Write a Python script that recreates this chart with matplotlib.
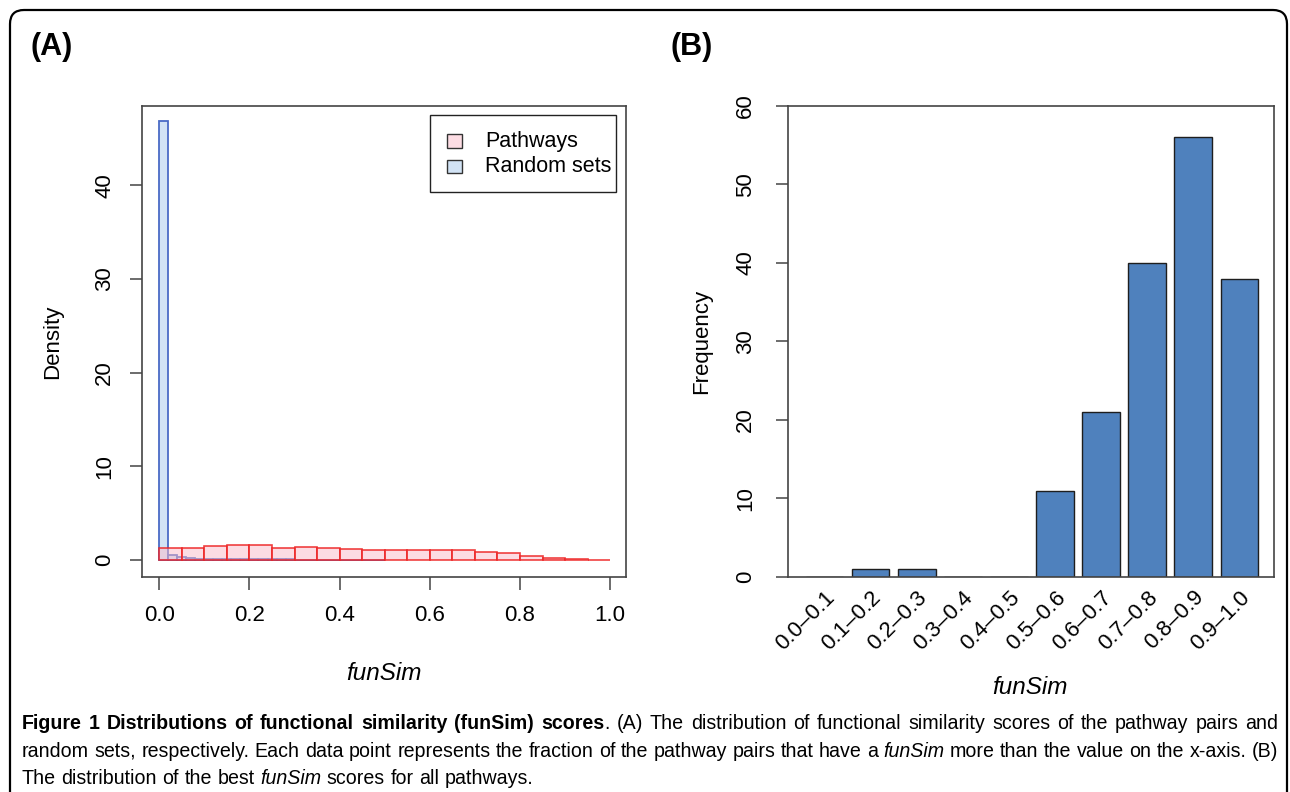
import matplotlib
matplotlib.use('Agg')
import matplotlib.pyplot as plt
import matplotlib.patches as mpatches
from matplotlib import font_manager as fm
from matplotlib.transforms import IdentityTransform

# ---------------- data ----------------
pathway_bin_width = 0.05
pathway_density = [1.27, 1.30, 1.45, 1.59, 1.56, 1.27, 1.42, 1.31, 1.16, 1.03,
                   1.03, 1.03, 1.03, 1.03, 0.85, 0.75, 0.47, 0.26, 0.08, 0.02]
random_bin_width = 0.02
random_density = [46.9, 0.53, 0.32, 0.20, 0.12, 0.10, 0.09, 0.08, 0.07, 0.07,
                  0.06, 0.06, 0.05, 0.05, 0.05, 0.04, 0.04, 0.04, 0.03, 0.03,
                  0.03, 0.02, 0.02, 0.02, 0.02]
a_xticks = [0.0, 0.2, 0.4, 0.6, 0.8, 1.0]
a_yticks = [0, 10, 20, 30, 40]
legend_labels = ["Pathways", "Random sets"]

b_categories = ["0.0\u20130.1", "0.1\u20130.2", "0.2\u20130.3", "0.3\u20130.4", "0.4\u20130.5",
                "0.5\u20130.6", "0.6\u20130.7", "0.7\u20130.8", "0.8\u20130.9", "0.9\u20131.0"]
b_frequency = [0, 1, 1, 0, 0, 11, 21, 40, 56, 38]
b_yticks = [0, 10, 20, 30, 40, 50, 60]

caption_lines = [
    [("Figure 1 Distributions of functional similarity (funSim) scores", "b"),
     (". (A) The distribution of functional similarity scores of the pathway pairs and", "n")],
    [("random sets, respectively. Each data point represents the fraction of the pathway pairs that have a ", "n"),
     ("funSim", "i"), (" more than the value on the x-axis. (B)", "n")],
    [("The distribution of the best ", "n"), ("funSim", "i"), (" scores for all pathways.", "n")],
]

# ---------------- fonts ----------------
names = {f.name for f in fm.fontManager.ttflist}
narrow = 'Liberation Sans Narrow' if 'Liberation Sans Narrow' in names else 'Liberation Sans'
plt.rcParams['font.family'] = ['Liberation Sans', 'DejaVu Sans']

W, H = 1290, 792
fig = plt.figure(figsize=(W / 100, H / 100), dpi=100)
fig.patch.set_facecolor('white')

def fx(px):
    return px / W

def fy(py):
    return 1 - py / H

spine_col = '#444444'
FS = 16

def style_axes(ax):
    for s in ax.spines.values():
        s.set_color(spine_col)
        s.set_linewidth(1.2)
    ax.tick_params(colors='black', labelsize=FS)
    ax.tick_params(axis='both', color=spine_col, width=1.1, length=9, direction='out')

# ---------------- panel A ----------------
A_L, A_R, A_T, A_B = 141.7, 626.0, 105.7, 577.0
axA = fig.add_axes([fx(A_L), fy(A_B), fx(A_R) - fx(A_L), fy(A_T) - fy(A_B)])
r_edges = [i * random_bin_width for i in range(len(random_density))]
axA.bar(r_edges, random_density, width=random_bin_width, align='edge',
        facecolor='#D2E3F5', edgecolor='#4A6BC6', linewidth=1.3, zorder=2)
p_edges = [i * pathway_bin_width for i in range(len(pathway_density))]
axA.bar(p_edges, pathway_density, width=pathway_bin_width, align='edge',
        facecolor=(251/255, 187/255, 201/255, 0.5), edgecolor=(0.93, 0.13, 0.13, 0.85),
        linewidth=1.2, zorder=3)
axA.set_xlim(-0.039, 1.035)
axA.set_ylim(-1.82, 48.5)
axA.set_xticks(a_xticks)
axA.set_xticklabels([f"{v:.1f}" for v in a_xticks])
axA.set_yticks(a_yticks)
axA.set_yticklabels([str(v) for v in a_yticks], rotation=90, va='center')
style_axes(axA)
axA.tick_params(axis='x', pad=11)
axA.tick_params(axis='y', pad=10)
axA.set_ylabel("Density", fontsize=FS)
axA.yaxis.set_label_coords(-0.162, 0.5)

# legend (drawn in axes coordinates, R style)
def ax_x(px):
    return (px - A_L) / (A_R - A_L)

def ax_y(py):
    return 1 - (py - A_T) / (A_B - A_T)

axA.add_patch(mpatches.Rectangle((ax_x(430), ax_y(192)), ax_x(616) - ax_x(430), ax_y(115) - ax_y(192),
                                 transform=axA.transAxes, facecolor='white', edgecolor='#222222',
                                 linewidth=1.0, zorder=5))
leg_colors = ['#FDDDE4', '#D2E3F5']
for lab, col, rowc in zip(legend_labels, leg_colors, [141, 166]):
    axA.add_patch(mpatches.Rectangle((ax_x(447), ax_y(rowc + 6.5)), ax_x(462) - ax_x(447),
                                     ax_y(rowc - 6.5) - ax_y(rowc + 6.5),
                                     transform=axA.transAxes, facecolor=col, edgecolor='#333333',
                                     linewidth=1.0, zorder=6))
    axA.text(ax_x(485), ax_y(rowc), lab, transform=axA.transAxes, fontsize=15.5,
             ha='left', va='center', zorder=6)

fig.text(fx(384), fy(673), "funSim", fontsize=17.5, style='italic', ha='center', va='center')

# ---------------- panel B ----------------
axB = fig.add_axes([fx(788), fy(577), fx(1274) - fx(788), fy(105.7) - fy(577)])
xs = list(range(len(b_categories)))
axB.bar(xs, b_frequency, width=0.82, color='#4F81BD', edgecolor='#1E1E1E', linewidth=1.0, zorder=2)
axB.set_xlim(-0.79, 9.75)
axB.set_ylim(0, 60)
axB.set_yticks(b_yticks)
axB.set_yticklabels([str(v) for v in b_yticks], rotation=90, va='center')
axB.set_xticks(xs)
axB.set_xticklabels(b_categories, rotation=45, ha='right', rotation_mode='anchor')
style_axes(axB)
axB.tick_params(axis='x', length=0, pad=7)
axB.tick_params(axis='y', pad=14)
axB.set_ylabel("Frequency", fontsize=FS)
axB.yaxis.set_label_coords(-0.156, 0.5)
fig.text(fx(1030), fy(687), "funSim", fontsize=17.5, style='italic', ha='center', va='center')

# ---------------- panel labels ----------------
fig.text(fx(30), fy(47.5), "(A)", fontsize=22, fontweight='bold', family=[narrow, 'DejaVu Sans'],
         ha='left', va='center')
fig.text(fx(671), fy(47.5), "(B)", fontsize=22, fontweight='bold', family=[narrow, 'DejaVu Sans'],
         ha='left', va='center')

# ---------------- rounded frame ----------------
frame = mpatches.FancyBboxPatch((10, -30), 1277, H - 10 + 30,
                                boxstyle=mpatches.BoxStyle("Round", pad=0, rounding_size=14),
                                transform=IdentityTransform(), facecolor='none',
                                edgecolor='black', linewidth=1.6, zorder=10)
fig.patches.append(frame)

# ---------------- caption ----------------
fig.canvas.draw()
renderer = fig.canvas.get_renderer()

def props(st, size):
    d = dict(fontsize=size, family=[narrow, 'DejaVu Sans'])
    if st == 'b':
        d['fontweight'] = 'bold'
    if st == 'i':
        d['style'] = 'italic'
    return d

def measure(s, st, size):
    t = fig.text(0, 0, s, **props(st, size))
    w = t.get_window_extent(renderer).width
    t.remove()
    return w

def words_of(segments):
    words, cur = [], []
    for text, st in segments:
        parts = text.split(' ')
        for k, p in enumerate(parts):
            if k > 0 and cur:
                words.append(cur)
                cur = []
            if p:
                cur.append((p, st))
    if cur:
        words.append(cur)
    return words

def word_width(word, size):
    return sum(measure(p, st, size) for p, st in word)

# choose size so that last line spans ~508 px
base = 13.0
wl = words_of(caption_lines[2])
sp = measure("a a", 'n', base) - measure("aa", 'n', base)
w3 = sum(word_width(w, base) for w in wl) + sp * (len(wl) - 1)
size = base * 508.0 / w3

baselines = [729, 757, 784]
left_px, right_px = 22, 1278
space = measure("a a", 'n', size) - measure("aa", 'n', size)
for li, segs in enumerate(caption_lines):
    words = words_of(segs)
    widths = [word_width(w, size) for w in words]
    if li < 2:
        gap = (right_px - left_px - sum(widths)) / (len(words) - 1)
    else:
        gap = space
    x = left_px
    for w, ww in zip(words, widths):
        xx = x
        for p, st in w:
            fig.text(fx(xx), fy(baselines[li]), p, ha='left', va='baseline', **props(st, size))
            xx += measure(p, st, size)
        x += ww + gap

fig.savefig("out.png", dpi=100, facecolor='white')
